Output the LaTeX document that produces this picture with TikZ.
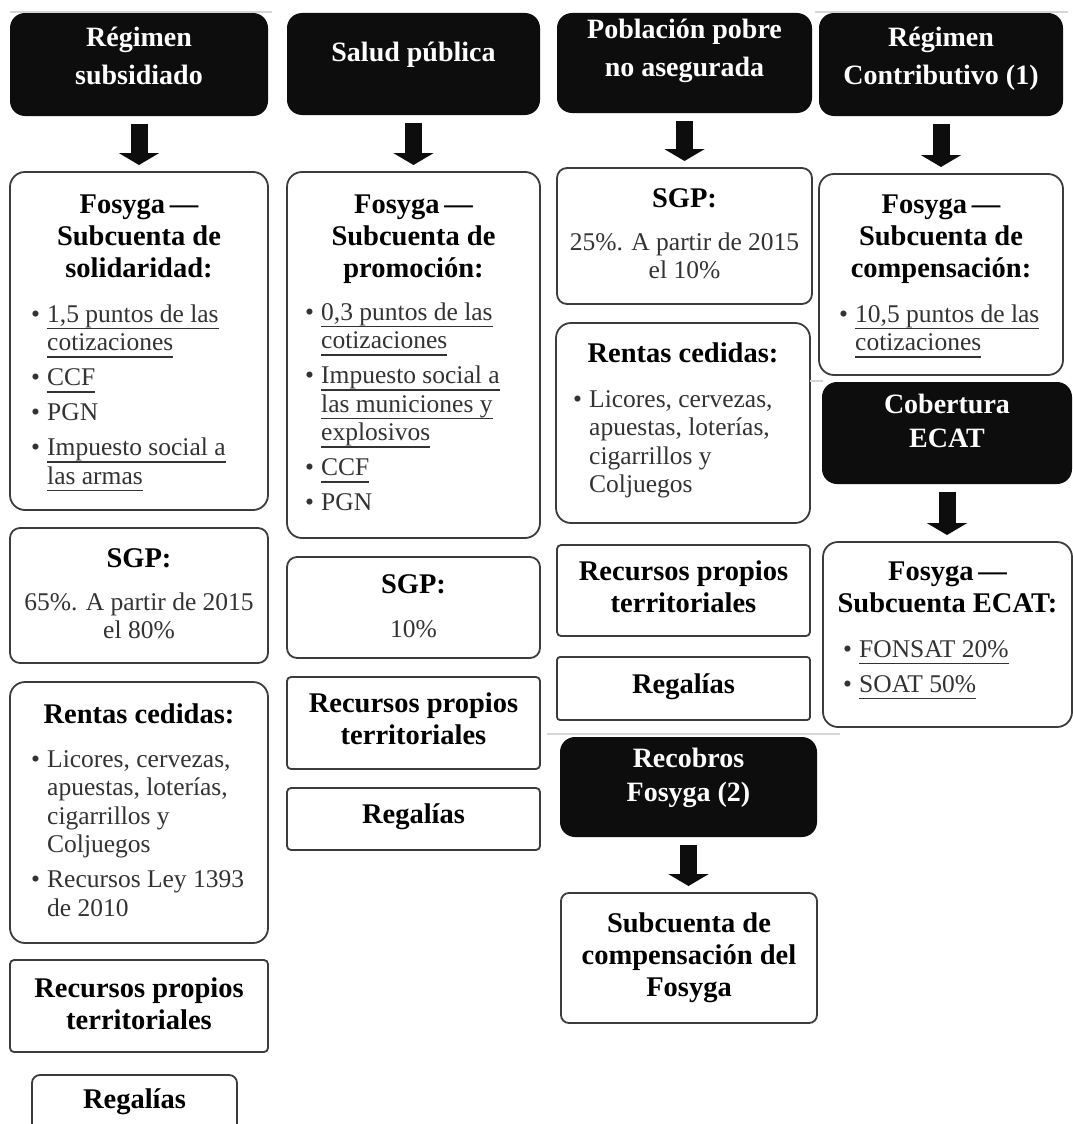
\documentclass[tikz,border=0pt]{standalone}
\usepackage{fontspec}
\setmainfont{Liberation Serif}
\usetikzlibrary{arrows.meta}
\definecolor{hdrblack}{HTML}{0D0D0D}
\definecolor{boxgray}{HTML}{3C3C3C}
\definecolor{bodygray}{HTML}{333333}
\definecolor{fainter}{HTML}{D6D6D6}
\pgfdeclarelayer{background}
\pgfsetlayers{background,main}
\newcommand\ul[1]{\setbox0\hbox{#1}\leavevmode\rlap{\rule[-7pt]{\wd0}{1.2pt}}\box0}
\newcommand\hdrfont{\fontsize{28}{38}\selectfont\bfseries}
\newcommand\hdrfontb{\fontsize{28}{34}\selectfont\bfseries}
\newcommand\ttlfont{\fontsize{28.5}{32}\selectfont\bfseries}
\newcommand\bodyfont{\fontsize{25.5}{28.5}\selectfont}
\newcommand\bi[1]{\hangindent=16pt\hangafter=1\noindent\makebox[16pt][l]{\textbullet}#1\par}
\newcommand\isep{\vspace{6.5pt}}
\tikzset{
 box/.style={draw=boxgray, line width=1.8pt, inner sep=0pt, outer sep=0pt},
 hdr/.style={fill=hdrblack, inner sep=0pt, outer sep=0pt, rounded corners=15pt},
 hdrtxt/.style={text=white, font=\hdrfont, align=flush center, inner sep=0pt, text width=250pt, anchor=base},
 ttl/.style={text=black, font=\ttlfont, align=flush center, inner sep=0pt, text width=250pt, anchor=base},
 bodyc/.style={text=bodygray, font=\bodyfont, align=flush center, inner sep=0pt, text width=250pt, anchor=base},
 lst/.style={text=bodygray, font=\bodyfont, align=flush left, inner sep=0pt, text width=235pt, anchor=base west},
 flow/.style={draw=hdrblack, line width=17pt, -{Triangle[width=40pt,length=12pt]}, shorten <=8pt, shorten >=7pt},
 faint/.style={draw=fainter, line width=1.5pt},
}
\newcommand\mkbox[6]{\node[#6, minimum width={(#4-#2)*1pt}, minimum height={(#5-#3)*1pt}, anchor=north west] (#1) at (#2,#3) {};}
\begin{document}
\begin{tikzpicture}[x=1pt,y=-1pt]
\useasboundingbox (0,0) rectangle (1073,1124);
\clip (0,0) rectangle (1073,1124);
\fill[white] (0,0) rectangle (1073,1124);
% headers
\mkbox{h1}{10}{13}{268}{116}{hdr}
\mkbox{h2}{287}{13}{540}{115}{hdr}
\mkbox{h3}{557}{13}{812}{113}{hdr}
\mkbox{h4}{819}{13}{1063}{116}{hdr}
\mkbox{h5}{822}{382}{1072}{484}{hdr}
\mkbox{h6}{560}{737}{817}{837}{hdr}
\begin{pgfonlayer}{background}
\foreach \n in {h1,h2,h3,h4,h5,h6} \fill[hdrblack] (\n.north west) rectangle (\n.east);
\end{pgfonlayer}
\node[hdrtxt] (h1t) at (139,47) {Régimen\\subsidiado};
\node[hdrtxt] (h2t) at (413.5,62) {Salud pública};
\node[hdrtxt] (h3t) at (684.5,39) {Población pobre\\no asegurada};
\node[hdrtxt] (h4t) at (941,47) {Régimen\\Contributivo (1)};
\node[hdrtxt, font=\hdrfontb] (h5t) at (947,413) {Cobertura\\ECAT};
\node[hdrtxt, font=\hdrfontb] (h6t) at (688.5,767) {Recobros\\Fosyga (2)};
% column 1
\mkbox{c1a}{10}{172}{268}{510}{box, rounded corners=15pt}
\node[ttl] (c1at) at (139,213) {Fosyga\,---\\Subcuenta de\\solidaridad:};
\node[lst] (c1al) at (31,322) {\bi{\ul{1,5 puntos de las}\newline\ul{cotizaciones}}\isep\bi{\ul{CCF}}\isep\bi{PGN}\isep\bi{\ul{Impuesto social a}\newline\ul{las armas}}};
\mkbox{c1b}{10}{528}{268}{663}{box, rounded corners=10pt}
\node[ttl] (c1bt) at (139,567) {SGP:};
\node[bodyc] (c1bb) at (139,610) {65\%. A partir de 2015\\el 80\%};
\mkbox{c1c}{10}{682}{268}{943}{box, rounded corners=15pt}
\node[ttl] (c1ct) at (139,723) {Rentas cedidas:};
\node[lst] (c1cl) at (31,767) {\bi{Licores, cervezas,\newline apuestas, loterías,\newline cigarrillos y\newline Coljuegos}\isep\bi{Recursos Ley 1393\newline de 2010}};
\mkbox{c1d}{10}{960}{268}{1052}{box, rounded corners=4pt}
\node[ttl] (c1dt) at (139,997) {Recursos propios\\territoriales};
\mkbox{c1e}{32}{1075}{237}{1160}{box, rounded corners=8pt}
\node[ttl] (c1et) at (134.5,1108) {Regalías};
% column 2
\mkbox{c2a}{287}{172}{540}{538}{box, rounded corners=15pt}
\node[ttl] (c2at) at (413.5,213) {Fosyga\,---\\Subcuenta de\\promoción:};
\node[lst] (c2al) at (305,320) {\bi{\ul{0,3 puntos de las}\newline\ul{cotizaciones}}\isep\bi{\ul{Impuesto social a}\newline\ul{las municiones y}\newline\ul{explosivos}}\isep\bi{\ul{CCF}}\isep\bi{PGN}};
\mkbox{c2b}{287}{557}{540}{658}{box, rounded corners=10pt}
\node[ttl] (c2bt) at (413.5,593) {SGP:};
\node[bodyc] (c2bb) at (413.5,637) {10\%};
\mkbox{c2c}{287}{677}{540}{769}{box, rounded corners=4pt}
\node[ttl] (c2ct) at (413.5,712) {Recursos propios\\territoriales};
\mkbox{c2d}{287}{788}{540}{850}{box, rounded corners=4pt}
\node[ttl] (c2dt) at (413.5,823) {Regalías};
% column 3
\mkbox{c3a}{557}{168}{812}{304}{box, rounded corners=10pt}
\node[ttl] (c3at) at (684.5,207) {SGP:};
\node[bodyc] (c3ab) at (684.5,250) {25\%. A partir de 2015\\el 10\%};
\mkbox{c3b}{556}{323}{810}{523}{box, rounded corners=15pt}
\node[ttl] (c3bt) at (683,362) {Rentas cedidas:};
\node[lst] (c3bl) at (573,407) {\bi{Licores, cervezas,\newline apuestas, loterías,\newline cigarrillos y\newline Coljuegos}};
\mkbox{c3c}{557}{545}{810}{636}{box, rounded corners=4pt}
\node[ttl] (c3ct) at (683.5,580) {Recursos propios\\territoriales};
\mkbox{c3d}{557}{657}{810}{720}{box, rounded corners=3pt}
\node[ttl] (c3dt) at (683.5,693) {Regalías};
\mkbox{c3e}{561}{893}{817}{1023}{box, rounded corners=8pt}
\node[ttl] (c3et) at (689,932) {Subcuenta de\\compensación del\\Fosyga};
% column 4
\mkbox{c4a}{819}{174}{1063}{375}{box, rounded corners=15pt}
\node[ttl] (c4at) at (941,213) {Fosyga\,---\\Subcuenta de\\compensación:};
\node[lst] (c4al) at (839,322) {\bi{\ul{10,5 puntos de las}\newline\ul{cotizaciones}}};
\mkbox{c4b}{823}{542}{1072}{727}{box, rounded corners=15pt}
\node[ttl] (c4bt) at (947.5,580) {Fosyga\,---\\Subcuenta ECAT:};
\node[lst] (c4bl) at (843,657) {\bi{\ul{FONSAT 20\%}}\isep\bi{\ul{SOAT 50\%}}};
% arrows
\draw[flow] (h1.south) -- (h1.south |- c1a.north);
\draw[flow] (h2.south) -- (h2.south |- c2a.north);
\draw[flow] (h3.south) -- (h3.south |- c3a.north);
\draw[flow] (h4.south) -- (h4.south |- c4a.north);
\draw[flow] (h5.south) -- (h5.south |- c4b.north);
\draw[flow] (h6.south) -- (h6.south |- c3e.north);
% faint separator lines
\draw[faint] (10,12) -- (272,12);
\draw[faint] (815,12) -- (1068,12);
\draw[faint] (810,381) -- (823,381);
\draw[faint] (547,734) -- (840,734);
\end{tikzpicture}
\end{document}
